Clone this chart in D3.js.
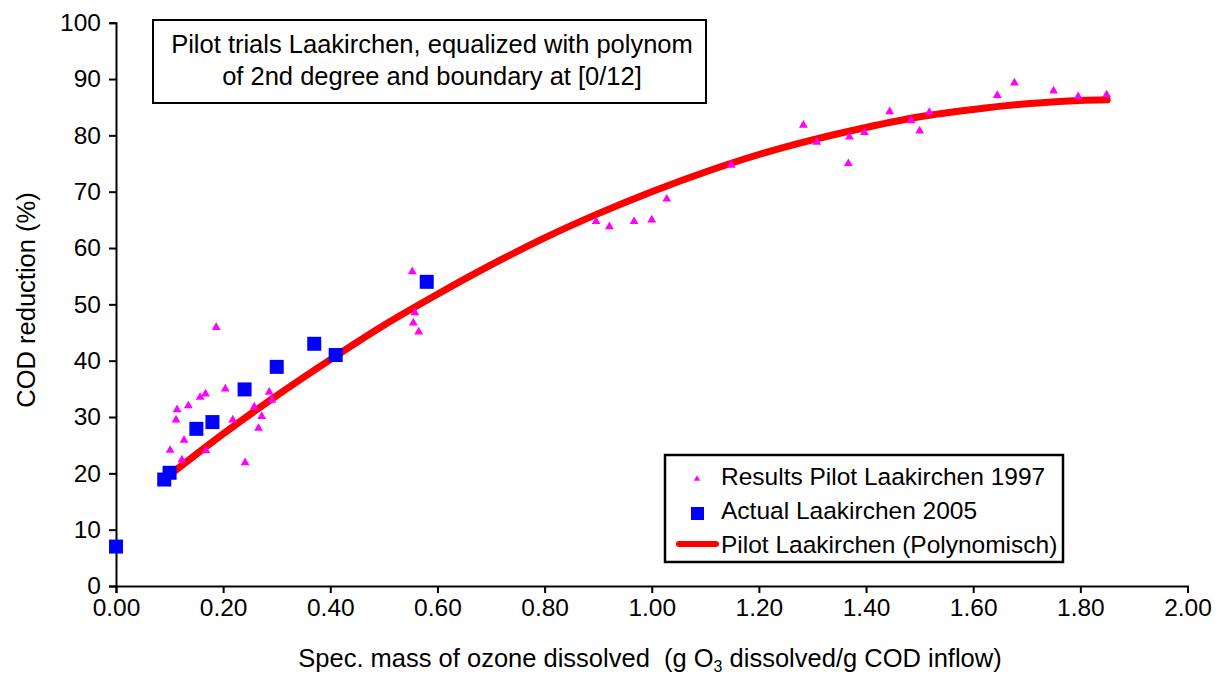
<!DOCTYPE html>
<html>
<head>
<meta charset="utf-8">
<script src="https://cdn.jsdelivr.net/npm/d3@7"></script>
<style>
  body { margin: 0; background: #fff; }
  svg { display: block; font-family: "Liberation Sans", Arial, sans-serif; }
  .axis path, .axis line { stroke: #000; stroke-width: 2; }
  .axis text { font-size: 24.5px; fill: #000; font-family: "Liberation Sans", Arial, sans-serif; }
</style>
</head>
<body>
<svg width="1223" height="677"></svg>
<script>
// pilot results 1997 (triangles)
var pilotX = [0.101, 0.112, 0.114, 0.123, 0.127, 0.135, 0.157, 0.167, 0.168, 0.187, 0.204, 0.218, 0.241, 0.258, 0.266, 0.272, 0.286, 0.291,
              0.553, 0.558, 0.555, 0.565, 0.896, 0.921, 0.967, 1.000, 1.028, 1.148, 1.283, 1.308, 1.369, 1.367, 1.397, 1.444,
              1.484, 1.500, 1.518, 1.645, 1.677, 1.750, 1.796, 1.849];
var pilotY = [24.1, 29.5, 31.3, 22.4, 25.9, 32.0, 33.5, 34.1, 24.0, 45.9, 35.0, 29.5, 21.9, 31.8, 28.0, 30.1, 34.4, 33.0,
              55.8, 48.5, 46.7, 45.1, 64.7, 63.8, 64.7, 65.0, 68.7, 74.7, 81.8, 78.8, 79.7, 75.0, 80.5, 84.2,
              82.6, 80.8, 84.1, 87.1, 89.3, 87.9, 86.9, 87.2];

// actual 2005 (squares)
var actualX = [0.00, 0.09, 0.10, 0.15, 0.18, 0.24, 0.30, 0.37, 0.41, 0.58];
var actualY = [7.0, 18.9, 20.1, 27.9, 29.1, 34.9, 38.9, 43.0, 41.0, 54.0];

// polynomial curve
var curveX = [0.10, 0.20, 0.30, 0.40, 0.50, 0.60, 0.70, 0.80, 0.90, 1.00, 1.10, 1.20, 1.30, 1.40, 1.50, 1.60, 1.70, 1.80, 1.85];
var curveY = [19.7, 27.0, 33.8, 40.2, 46.3, 51.8, 57.0, 61.8, 66.1, 70.0, 73.5, 76.6, 79.2, 81.4, 83.3, 84.6, 85.6, 86.2, 86.3];

var xTicks = [0, 0.2, 0.4, 0.6, 0.8, 1.0, 1.2, 1.4, 1.6, 1.8, 2.0];
var yTicks = [0, 10, 20, 30, 40, 50, 60, 70, 80, 90, 100];

var titleLines = ["Pilot trials Laakirchen, equalized with polynom", "of 2nd degree and boundary at [0/12]"];
var legendNames = ["Results Pilot Laakirchen 1997", "Actual Laakirchen 2005", "Pilot Laakirchen (Polynomisch)"];

var svg = d3.select("svg");
var x = d3.scaleLinear().domain([0, 2]).range([116, 1187.5]);
var y = d3.scaleLinear().domain([0, 100]).range([586, 22.7]);

// axes
svg.append("g").attr("class", "axis")
    .attr("transform", "translate(0,586)")
    .call(d3.axisBottom(x).tickValues(xTicks).tickFormat(d3.format(".2f")).tickSizeOuter(0).tickSize(7).tickPadding(6));

svg.append("g").attr("class", "axis")
    .attr("transform", "translate(116,0)")
    .call(d3.axisLeft(y).tickValues(yTicks).tickSizeOuter(0).tickSize(7).tickPadding(8));

// axis titles
svg.append("text")
    .attr("transform", "translate(35,300) rotate(-90)")
    .attr("text-anchor", "middle")
    .style("font-size", "25.5px")
    .text("COD reduction (%)");

var xt = svg.append("text")
    .attr("x", 650).attr("y", 667)
    .attr("text-anchor", "middle")
    .style("font-size", "25.5px")
    .attr("xml:space", "preserve");
xt.append("tspan").text("Spec. mass of ozone dissolved  (g O");
xt.append("tspan").attr("dy", 5).style("font-size", "16px").text("3");
xt.append("tspan").attr("dy", -5).text(" dissolved/g COD inflow)");

// title box
svg.append("rect")
    .attr("x", 153).attr("y", 20).attr("width", 553).attr("height", 83)
    .style("fill", "#fff").style("stroke", "#000").style("stroke-width", 2);
svg.selectAll(".title").data(titleLines).enter().append("text")
    .attr("x", 432).attr("y", function(d, i) { return 53 + i * 32; })
    .attr("text-anchor", "middle")
    .style("font-size", "25.5px")
    .text(function(d) { return d; });

// fitted curve
var line = d3.line().x(function(d) { return x(d[0]); }).y(function(d) { return y(d[1]); }).curve(d3.curveMonotoneX);
svg.append("path")
    .datum(curveX.map(function(d, i) { return [d, curveY[i]]; }))
    .attr("d", line)
    .style("fill", "none").style("stroke", "#ff0000").style("stroke-width", 7).style("stroke-linecap", "round");

// triangles
var tri = d3.symbol().type(d3.symbolTriangle).size(34);
svg.selectAll(".tri").data(pilotX).enter().append("path")
    .attr("d", tri)
    .attr("transform", function(d, i) { return "translate(" + x(d) + "," + y(pilotY[i]) + ")"; })
    .style("fill", "#ff00ff");

// squares
svg.selectAll(".sq").data(actualX).enter().append("rect")
    .attr("x", function(d) { return x(d) - 7; })
    .attr("y", function(d, i) { return y(actualY[i]) - 7; })
    .attr("width", 14).attr("height", 14)
    .style("fill", "#0000ff");

// legend
var lg = svg.append("g");
lg.append("rect")
    .attr("x", 665).attr("y", 455).attr("width", 398).attr("height", 107)
    .style("fill", "#fff").style("stroke", "#000").style("stroke-width", 2.5);
lg.append("path").attr("d", d3.symbol().type(d3.symbolTriangle).size(18))
    .attr("transform", "translate(697,479)").style("fill", "#ff00ff");
lg.append("rect").attr("x", 691).attr("y", 507).attr("width", 13).attr("height", 13).style("fill", "#0000ff");
lg.append("line").attr("x1", 679).attr("x2", 716).attr("y1", 544).attr("y2", 544)
    .style("stroke", "#ff0000").style("stroke-width", 6).style("stroke-linecap", "round");
lg.selectAll(".lt").data(legendNames).enter().append("text")
    .attr("x", 721).attr("y", function(d, i) { return 485 + i * 34; })
    .style("font-size", "24.5px")
    .text(function(d) { return d; });
</script>
</body>
</html>
